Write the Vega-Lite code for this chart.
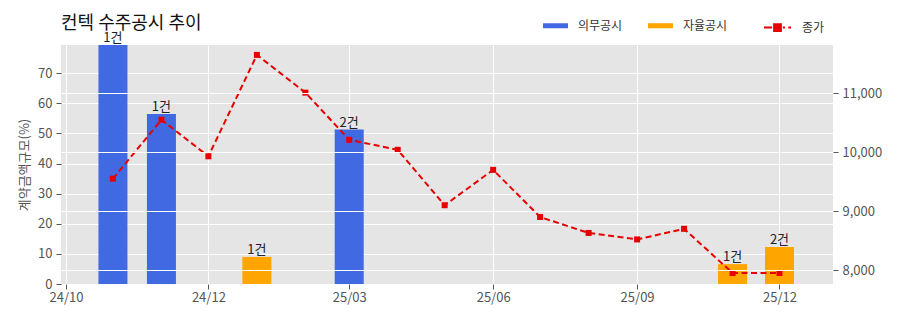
{
  "$schema": "https://vega.github.io/schema/vega-lite/v6.json",
  "width": 772,
  "height": 239,
  "autosize": {"type": "none"},
  "padding": {"left": 61, "top": 45, "right": 67, "bottom": 39},
  "background": "white",
  "title": {
    "text": "컨텍 수주공시 추이",
    "anchor": "start",
    "frame": "group",
    "fontSize": 18,
    "fontWeight": "normal",
    "font": "Noto Sans CJK KR",
    "color": "#111",
    "offset": 14,
    "dy": 34
  },
  "config": {
    "font": "Noto Sans CJK KR",
    "view": {"fill": "#e5e5e5", "stroke": null},
    "axis": {
      "labelColor": "#555",
      "labelFontSize": 13,
      "tickColor": "#555",
      "tickSize": 5,
      "domain": false,
      "gridColor": "white",
      "gridWidth": 1,
      "titleColor": "#555",
      "titleFontWeight": "normal",
      "labelFlush": false
    }
  },
  "datasets": {
    "bars": [
      {"date": "2024-10-01", "type": "의무공시", "value": 79.4, "label": "1건"},
      {"date": "2024-11-01", "type": "의무공시", "value": 56.5, "label": "1건"},
      {"date": "2025-01-01", "type": "자율공시", "value": 9.0, "label": "1건"},
      {"date": "2025-03-01", "type": "의무공시", "value": 51.3, "label": "2건"},
      {"date": "2025-11-01", "type": "자율공시", "value": 6.6, "label": "1건"},
      {"date": "2025-12-01", "type": "자율공시", "value": 12.3, "label": "2건"}
    ],
    "prices": [
      {"date": "2024-10-01", "series": "종가", "price": 9550},
      {"date": "2024-11-01", "series": "종가", "price": 10550},
      {"date": "2024-12-01", "series": "종가", "price": 9930},
      {"date": "2025-01-01", "series": "종가", "price": 11650},
      {"date": "2025-02-01", "series": "종가", "price": 11010},
      {"date": "2025-03-01", "series": "종가", "price": 10210},
      {"date": "2025-04-01", "series": "종가", "price": 10040},
      {"date": "2025-05-01", "series": "종가", "price": 9100},
      {"date": "2025-06-01", "series": "종가", "price": 9700},
      {"date": "2025-07-01", "series": "종가", "price": 8900},
      {"date": "2025-08-01", "series": "종가", "price": 8630},
      {"date": "2025-09-01", "series": "종가", "price": 8520},
      {"date": "2025-10-01", "series": "종가", "price": 8700},
      {"date": "2025-11-01", "series": "종가", "price": 7950},
      {"date": "2025-12-01", "series": "종가", "price": 7950}
    ]
  },
  "encoding": {
    "x": {
      "field": "date",
      "type": "temporal",
      "title": null,
      "scale": {
        "type": "utc",
        "domain": [
          {"year": 2024, "month": 9, "date": 1, "utc": true},
          {"year": 2026, "month": 1, "date": 1, "utc": true}
        ]
      },
      "axis": {
        "values": [
          {"year": 2024, "month": 9, "date": 1, "utc": true},
          {"year": 2024, "month": 12, "date": 1, "utc": true},
          {"year": 2025, "month": 3, "date": 1, "utc": true},
          {"year": 2025, "month": 6, "date": 1, "utc": true},
          {"year": 2025, "month": 9, "date": 1, "utc": true},
          {"year": 2025, "month": 12, "date": 1, "utc": true}
        ],
        "labelExpr": "utcFormat(datum.value, '%y/%m') == '24/09' ? '24/10' : utcFormat(datum.value, '%y/%m')",
        "grid": true,
        "labelPadding": 2
      }
    }
  },
  "layer": [
    {
      "data": {"name": "bars"},
      "encoding": {
        "y": {
          "field": "value",
          "type": "quantitative",
          "title": "계약금액규모(%)",
          "scale": {"domain": [0, 79.4], "nice": false},
          "axis": {
            "values": [0, 10, 20, 30, 40, 50, 60, 70],
            "grid": true,
            "labelPadding": 4,
            "titleFontSize": 13,
            "titlePadding": 6
          }
        }
      },
      "layer": [
        {
          "mark": {"type": "bar", "size": 29},
          "encoding": {
            "color": {
              "field": "type",
              "type": "nominal",
              "scale": {"domain": ["의무공시", "자율공시"], "range": ["#4169e1", "#ffa500"]},
              "legend": {
                "orient": "none",
                "legendX": 482,
                "legendY": -32,
                "direction": "horizontal",
                "title": null,
                "symbolType": "M-1,-0.2H1V0.2H-1Z",
                "symbolSize": 625,
                "symbolStrokeWidth": 0,
                "labelFontSize": 12,
                "labelColor": "#333",
                "labelOffset": 10,
                "columnPadding": 25,
                "padding": 0
              }
            }
          }
        },
        {
          "mark": {"type": "text", "baseline": "bottom", "dy": 0, "fontSize": 13, "color": "#222"},
          "encoding": {"text": {"field": "label"}}
        }
      ]
    },
    {
      "data": {"name": "prices"},
      "encoding": {
        "y": {
          "field": "price",
          "type": "quantitative",
          "title": null,
          "scale": {"domain": [7764, 11818], "nice": false, "zero": false},
          "axis": {
            "orient": "right",
            "values": [8000, 9000, 10000, 11000],
            "labelExpr": "format(datum.value, ',')",
            "labelPadding": 4,
            "grid": true,
            "zindex": 1
          }
        }
      },
      "layer": [
        {
          "mark": {"type": "line", "strokeWidth": 2, "strokeDash": [6, 3.5]},
          "encoding": {
            "stroke": {
              "field": "series",
              "type": "nominal",
              "scale": {"domain": ["종가"], "range": ["#e60000"]},
              "legend": {
                "orient": "none",
                "legendX": 702,
                "legendY": -32,
                "title": null,
                "symbolType": "M-1,0H-0.4M0.4,0H0.55M0.8,0H1M-0.25,-0.25H0.25V0.25H-0.25Z",
                "symbolSize": 729,
                "symbolStrokeWidth": 2,
                "symbolFillColor": "#e60000",
                "labelFontSize": 12,
                "labelColor": "#333",
                "labelOffset": 10,
                "padding": 0
              }
            }
          }
        },
        {
          "mark": {"type": "point", "shape": "square", "size": 36, "filled": true, "color": "#e60000", "opacity": 1}
        }
      ]
    }
  ],
  "resolve": {"scale": {"y": "independent"}}
}
